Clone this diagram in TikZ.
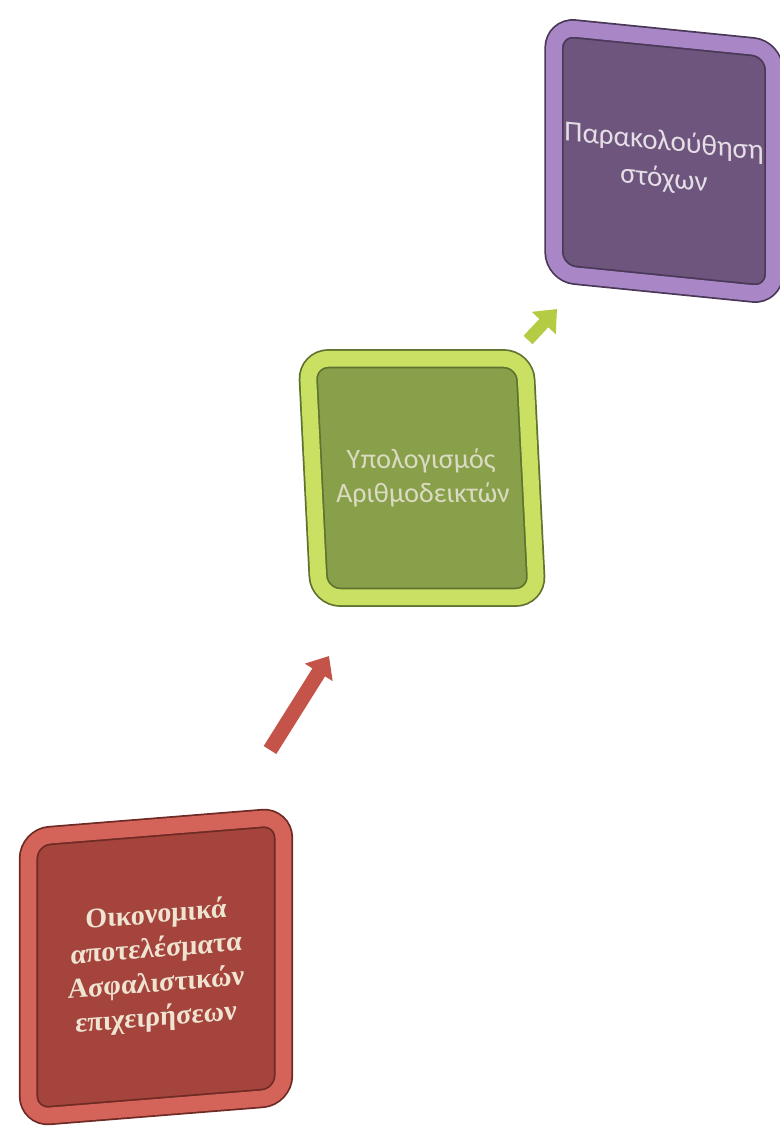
\documentclass[tikz,border=0pt]{standalone}
\usepackage{fontspec}
\newfontfamily\serifgr{Liberation Serif}
\newfontfamily\sansgr{Carlito}
\usetikzlibrary{arrows.meta,positioning}

\definecolor{redface}{HTML}{A4443C}
\definecolor{redrim}{HTML}{D4645A}
\definecolor{reddark}{HTML}{6E2A24}
\definecolor{redtext}{HTML}{EFE4D2}
\definecolor{greenface}{HTML}{89A04A}
\definecolor{greenrim}{HTML}{C9E062}
\definecolor{greendark}{HTML}{5F7330}
\definecolor{greentext}{HTML}{DADBC2}
\definecolor{purpleface}{HTML}{6D557E}
\definecolor{purplerim}{HTML}{A987C6}
\definecolor{purpledark}{HTML}{4A3858}
\definecolor{purpletext}{HTML}{E6DEE6}
\definecolor{arrowred}{HTML}{C4544A}
\definecolor{arrowgreen}{HTML}{B4CC44}

\begin{document}
\begin{tikzpicture} [x=0.02cm,y=-0.02cm,{slab/.style={rectangle,rounded corners=12pt,align=center,line width=1pt,double distance=9pt}},{redslab/.style={slab,draw=reddark,double=redrim,fill=redface}},{greenslab/.style={slab,draw=greendark,double=greenrim,fill=greenface}},{purpleslab/.style={slab,draw=purpledark,double=purplerim,fill=purpleface}},{blockarrow/.style={line width=8.5pt,-{Triangle[length=11pt,width=18pt]}}}]
	%%page frame
	\useasboundingbox (0,0) rectangle (780,1133);
	%%slabs
	\node [redslab,yslant=0.08,minimum width=5.1cm,minimum height=5.6cm,text=redtext,font=\serifgr\bfseries\fontsize{16}{19.5}\selectfont] (oikon) at (156,967) {Οικονομικά\\αποτελέσματα\\Ασφαλιστικών\\επιχειρήσεων};
	\node [greenslab,xslant=-0.05,minimum width=4.35cm,minimum height=4.77cm,text=greentext,font=\sansgr\fontsize{16}{19.5}\selectfont] (ypolog) at (422,478) {Υπολογισμός\\Αριθμοδεικτών};
	\node [purpleslab,yslant=-0.1,minimum width=4.4cm,minimum height=4.93cm,text=purpletext,font=\sansgr\fontsize{16.5}{21}\selectfont] (parak) at (664,161) {Παρακολούθηση\\στόχων};
	
	%%arrows
	\coordinate (a1s) at (270,750);
	\coordinate (a1e) at (329,656);
	\coordinate (a2s) at (528,340);
	\coordinate (a2e) at (557,309);
	\draw [blockarrow,arrowred] (a1s) -- (a1e);
	\draw [blockarrow,arrowgreen,line width=7pt] (a2s) -- (a2e);

\end{tikzpicture}
\end{document}
